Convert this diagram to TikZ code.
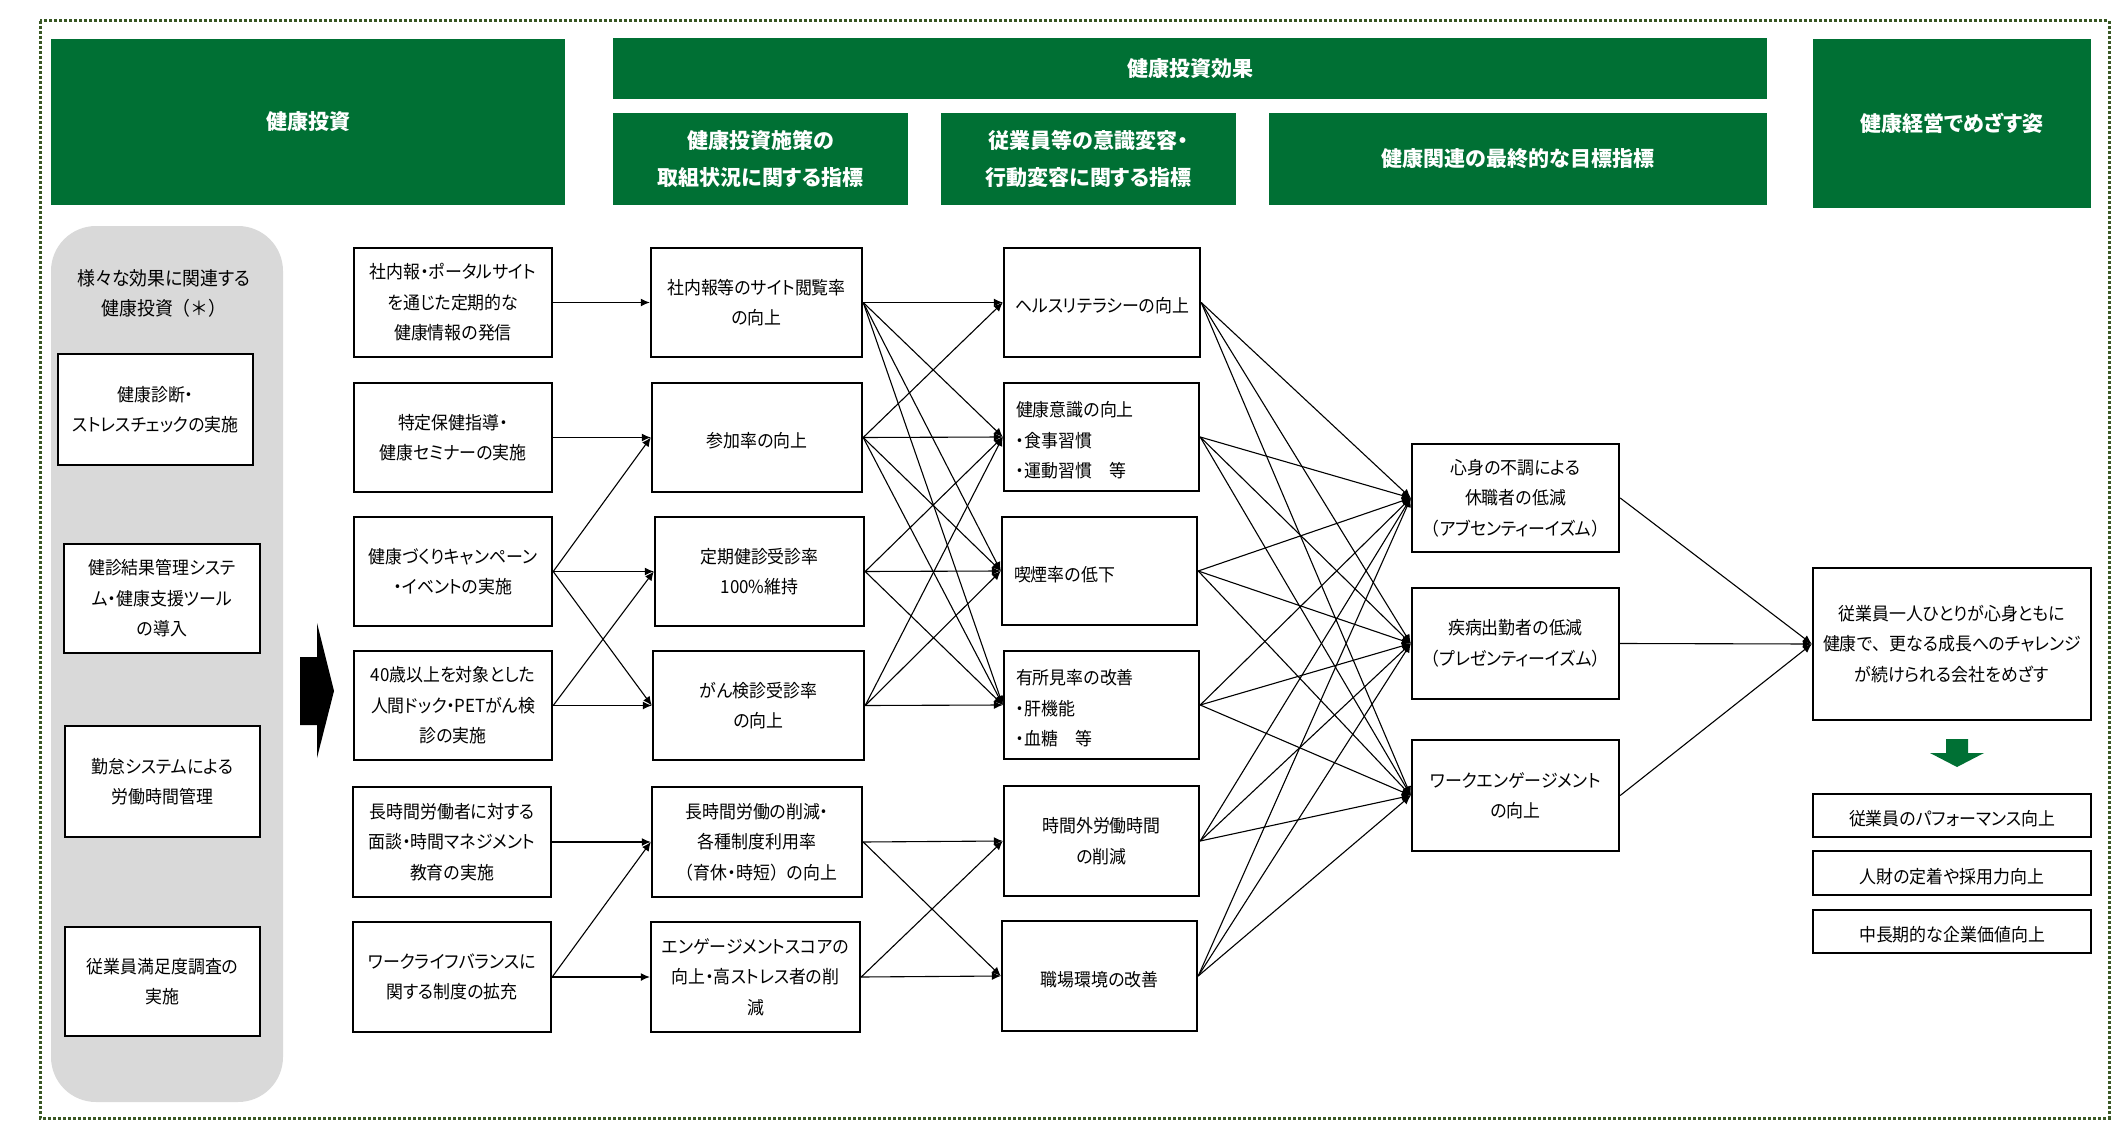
\documentclass[tikz,border=0pt]{standalone}
\usepackage{fontspec}
\setmainfont{Noto Sans CJK JP}[RawFeature=+palt, FakeStretch=0.94]
\newfontfamily\hdrfamily{Noto Sans CJK JP}[RawFeature=+palt]
\usetikzlibrary{arrows.meta}
\definecolor{hgreen}{RGB}{0,112,52}
\definecolor{framegreen}{RGB}{56,87,35}
\definecolor{panelgray}{RGB}{217,217,217}
\newcommand\bodyfs{\fontsize{18}{30.5}\selectfont}
\newcommand\hdrfs{\hdrfamily\fontsize{21}{37}\selectfont\bfseries}
\newcommand\dropstrut{\rule{0pt}{22pt}}
\newcommand\fw[1]{{\addfontfeatures{RawFeature=-palt}#1}}
\begin{document}
\begin{tikzpicture}[x=1pt,y=-1pt,
  box/.style={draw=black, line width=2.4pt, fill=white, inner sep=0pt, align=center, font=\bodyfs, execute at begin node=\dropstrut},
  lbox/.style={box, align=left, inner xsep=12pt, text width=#1},
  hdr/.style={fill=hgreen, text=white, inner sep=0pt, align=center, font=\hdrfs},
  conn/.style={line width=1.1pt, -{Latex[length=9pt,width=8pt]}}
]
\useasboundingbox (0,0) rectangle (2121,1145);
\fill[white] (0,0) rectangle (2121,1145);
% outer dotted frame
\draw[framegreen, line width=3pt, dash pattern=on 3pt off 2pt] (40,21) rectangle (2109,1118);
% headers
\node[hdr, minimum width=514, minimum height=166] (H1) at (308,122) {健康投資};
\node[hdr, minimum width=1154, minimum height=61] (H2) at (1190,69) {健康投資効果};
\node[hdr, minimum width=295, minimum height=92] (H3) at (760.5,159) {健康投資施策の\\取組状況に関する指標};
\node[hdr, minimum width=295, minimum height=92] (H4) at (1088.5,159) {従業員等の意識変容・\\行動変容に関する指標};
\node[hdr, minimum width=498, minimum height=92] (H5) at (1518,159) {健康関連の最終的な目標指標};
\node[hdr, minimum width=278, minimum height=169] (H6) at (1952,123.5) {健康経営でめざす姿};
% gray panel
\fill[panelgray, rounded corners=45pt] (51,226) rectangle (283,1102);
\node[align=center, font=\fontsize{19}{30}\selectfont] (PT) at (164,293) {様々な効果に関連する\\健康投資\fw{（＊）}};
\node[box, minimum width=195, minimum height=111] (L1) at (155.5,409.5) {健康診断・\\ストレスチェックの実施};
\node[box, minimum width=196, minimum height=109] (L2) at (162,598.5) {健診結果管理システ\\ム・健康支援ツール\\の導入};
\node[box, minimum width=195, minimum height=111] (L3) at (162.5,781.5) {勤怠システムによる\\労働時間管理};
\node[box, minimum width=195, minimum height=109] (L4) at (162.5,981.5) {従業員満足度調査の\\実施};
% black block arrow
\fill[black] (300,657) -- (317,657) -- (317,623) -- (334,691) -- (317,758) -- (317,725) -- (300,725) -- cycle;
% column A
\node[box, minimum width=198, minimum height=109] (A1) at (453,302.5) {社内報・ポータルサイト\\を通じた定期的な\\健康情報の発信};
\node[box, minimum width=198, minimum height=109] (A2) at (453,437.5) {特定保健指導・\\健康セミナーの実施};
\node[box, minimum width=198, minimum height=109] (A3) at (453,571.5) {健康づくりキャンペーン\\・イベントの実施};
\node[box, minimum width=198, minimum height=109] (A4) at (453,705.5) {40歳以上を対象とした\\人間ドック・PETがん検\\診の実施};
\node[box, minimum width=198, minimum height=110] (A5) at (452,842) {長時間労働者に対する\\面談・時間マネジメント\\教育の実施};
\node[box, minimum width=198, minimum height=110] (A6) at (452,977) {ワークライフバランスに\\関する制度の拡充};
% column B
\node[box, minimum width=211, minimum height=109] (B1) at (756.5,302.5) {社内報等のサイト閲覧率\\の向上};
\node[box, minimum width=210, minimum height=109] (B2) at (757,437.5) {参加率の向上};
\node[box, minimum width=209, minimum height=109] (B3) at (759.5,571.5) {定期健診受診率\\100\%維持};
\node[box, minimum width=211, minimum height=109] (B4) at (758.5,705.5) {がん検診受診率\\の向上};
\node[box, minimum width=210, minimum height=110] (B5) at (757,842) {長時間労働の削減・\\各種制度利用率\\\fw{（}育休・時短\fw{）}の向上};
\node[box, minimum width=209, minimum height=110] (B6) at (755.5,977) {エンゲージメントスコアの\\向上・高ストレス者の削\\減};
% column C
\node[box, minimum width=196, minimum height=109] (C1) at (1102,302.5) {ヘルスリテラシーの向上};
\node[lbox=171pt, minimum width=195, minimum height=108] (C2) at (1101.5,437) {健康意識の向上\\・食事習慣\\・運動習慣　等};
\node[lbox=171pt, minimum width=195, minimum height=108] (C3) at (1099.5,571) {喫煙率の低下};
\node[lbox=171pt, minimum width=195, minimum height=108] (C4) at (1101.5,705) {有所見率の改善\\・肝機能\\・血糖　等};
\node[box, minimum width=195, minimum height=110] (C5) at (1101.5,841) {時間外労働時間\\の削減};
\node[box, minimum width=195, minimum height=110] (C6) at (1099.5,976) {職場環境の改善};
% column D
\node[box, minimum width=207, minimum height=108] (D1) at (1515.5,498) {心身の不調による\\休職者の低減\\\fw{（}アブセンティーイズム\fw{）}};
\node[box, minimum width=207, minimum height=111] (D2) at (1515.5,643.5) {疾病出勤者の低減\\\fw{（}プレゼンティーイズム\fw{）}};
\node[box, minimum width=207, minimum height=111] (D3) at (1515.5,795.5) {ワークエンゲージメント\\の向上};
% column E / F
\node[box, minimum width=278, minimum height=152] (E) at (1952,644) {従業員一人ひとりが心身ともに\\健康で\fw{、}更なる成長へのチャレンジ\\が続けられる会社をめざす};
\fill[hgreen] (1946,739) -- (1968,739) -- (1968,753) -- (1984,753) -- (1957,767) -- (1930,753) -- (1946,753) -- cycle;
\node[box, minimum width=278, minimum height=43] (F1) at (1952,815.5) {従業員のパフォーマンス向上};
\node[box, minimum width=278, minimum height=44] (F2) at (1952,873) {人財の定着や採用力向上};
\node[box, minimum width=278, minimum height=43] (F3) at (1952,931.5) {中長期的な企業価値向上};
% connectors A -> B
\foreach \s/\t in {A1/B1, A2/B2, A3/B2, A3/B3, A3/B4, A4/B3, A4/B4, A5/B5, A6/B5, A6/B6}
  \draw[conn] (\s.east) -- (\t.west);
% connectors B -> C
\foreach \s/\t in {B1/C1, B1/C2, B1/C3, B1/C4, B2/C1, B2/C2, B2/C3, B2/C4, B3/C2, B3/C3, B3/C4, B4/C2, B4/C3, B4/C4, B5/C5, B5/C6, B6/C5, B6/C6}
  \draw[conn] (\s.east) -- (\t.west);
% connectors C -> D
\foreach \s in {C1,C2,C3,C4,C5,C6}
  \foreach \t in {D1,D2,D3}
    \draw[conn] (\s.east) -- (\t.west);
% connectors D -> E
\foreach \s in {D1,D2,D3}
  \draw[conn] (\s.east) -- (E.west);
\end{tikzpicture}
\end{document}
